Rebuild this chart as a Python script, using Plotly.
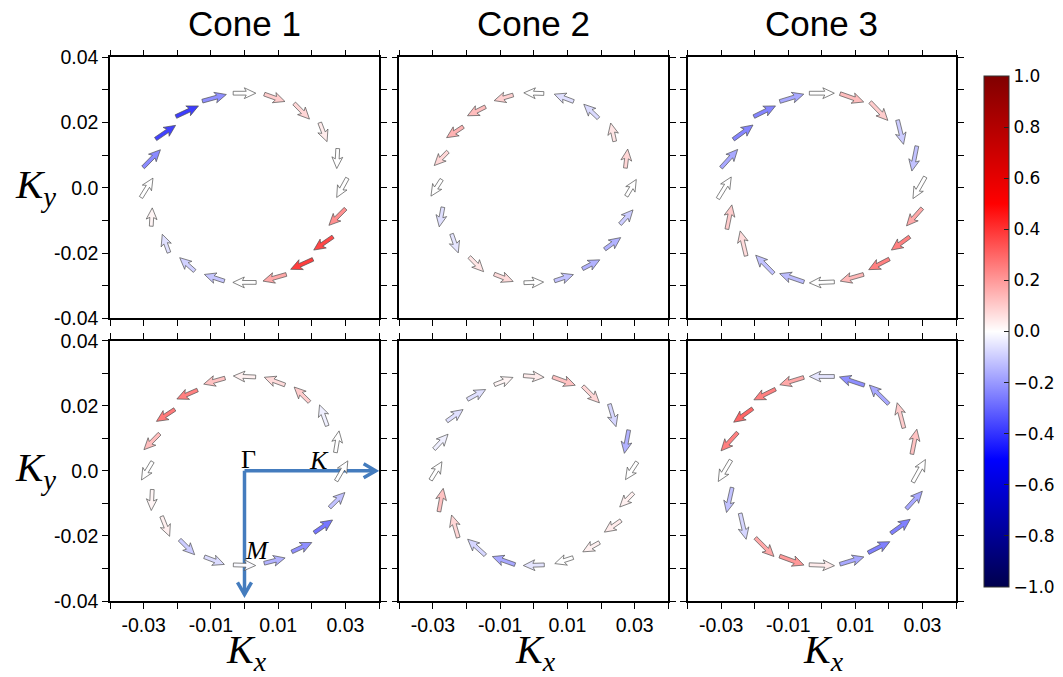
import math
import plotly.graph_objects as go

W, H = 1063, 677

# ---------------- data ----------------
column_titles = ["Cone 1", "Cone 2", "Cone 3"]
tick_vals = [-0.04, -0.03, -0.02, -0.01, 0.0, 0.01, 0.02, 0.03, 0.04]
x_tick_text = ["", "-0.03", "", "-0.01", "", "0.01", "", "0.03", ""]
y_tick_text = ["-0.04", "", "-0.02", "", "0.0", "", "0.02", "", "0.04"]
cbar_tick_vals = [-1.0, -0.8, -0.6, -0.4, -0.2, 0.0, 0.2, 0.4, 0.6, 0.8, 1.0]
cbar_tick_text = ["\u22121.0", "\u22120.8", "\u22120.6", "\u22120.4", "\u22120.2",
                  "0.0", "0.2", "0.4", "0.6", "0.8", "1.0"]

ring_radius = 0.029
# arrow sites: 20 points, clockwise from the top of the ring
site_angle_deg = [90 - 18 * i for i in range(20)]

# in-plane spin components (u, v) and out-of-plane colour value (c) per site
cone1_top_u = [0.68, 0.62, 0.46, 0.22, -0.03, -0.32, -0.50, -0.58, -0.67, -0.70,
               -0.70, -0.60, -0.45, -0.20, 0.03, 0.36, 0.52, 0.60, 0.68, 0.72]
cone1_top_v = [0.00, -0.22, -0.47, -0.57, -0.60, -0.58, -0.50, -0.40, -0.30, -0.20,
               0.00, 0.20, 0.40, 0.55, 0.55, 0.58, 0.53, 0.41, 0.32, 0.20]
cone1_top_c = [0.0, 0.10, 0.08, 0.04, 0.0, 0.0, 0.22, 0.36, 0.38, 0.17,
               0.0, -0.11, -0.09, -0.06, 0.02, 0.0, -0.23, -0.37, -0.38, -0.22]

cone2_top_u = [-0.60, -0.58, -0.44, -0.12, 0.07, 0.30, 0.39, 0.48, 0.52, 0.57,
               0.59, 0.57, 0.43, 0.20, -0.11, -0.32, -0.41, -0.50, -0.54, -0.57]
cone2_top_v = [0.02, 0.22, 0.42, 0.55, 0.57, 0.50, 0.43, 0.35, 0.27, 0.19,
               0.02, -0.22, -0.44, -0.57, -0.59, -0.50, -0.42, -0.33, -0.27, -0.17]
cone2_top_c = [0.0, -0.06, -0.07, 0.05, 0.08, 0.0, -0.10, -0.15, -0.15, -0.12,
               0.0, 0.07, 0.05, -0.05, -0.06, 0.0, 0.08, 0.15, 0.13, 0.09]

cone3_top_u = [0.75, 0.71, 0.53, 0.18, -0.15, -0.37, -0.47, -0.55, -0.62, -0.70,
               -0.75, -0.73, -0.54, -0.18, 0.15, 0.40, 0.50, 0.59, 0.65, 0.72]
cone3_top_v = [0.00, -0.25, -0.55, -0.73, -0.75, -0.65, -0.53, -0.40, -0.32, -0.20,
               -0.03, 0.25, 0.55, 0.75, 0.73, 0.65, 0.55, 0.43, 0.32, 0.22]
cone3_top_c = [0.0, 0.13, 0.10, -0.10, -0.12, 0.0, 0.17, 0.25, 0.25, 0.14,
               0.0, -0.13, -0.12, 0.07, 0.10, 0.0, -0.17, -0.24, -0.24, -0.17]

cone1_bot_u = [-0.67, -0.62, -0.46, -0.23, 0.11, 0.35, 0.46, 0.55, 0.60, 0.63,
               0.67, 0.60, 0.45, 0.24, -0.03, -0.33, -0.47, -0.55, -0.62, -0.64]
cone1_bot_v = [0.03, 0.23, 0.45, 0.63, 0.65, 0.60, 0.45, 0.38, 0.28, 0.16,
               -0.02, -0.23, -0.45, -0.60, -0.63, -0.55, -0.48, -0.36, -0.27, -0.18]
cone1_bot_c = [0.03, 0.07, 0.10, -0.03, 0.0, 0.0, -0.12, -0.27, -0.22, -0.15,
               -0.01, -0.07, -0.10, 0.03, 0.02, 0.0, 0.13, 0.26, 0.25, 0.12]

cone2_bot_u = [0.62, 0.68, 0.50, 0.20, -0.13, -0.35, -0.41, -0.50, -0.50, -0.55,
               -0.63, -0.68, -0.53, -0.20, 0.13, 0.34, 0.42, 0.49, 0.55, 0.56]
cone2_bot_v = [-0.05, -0.25, -0.50, -0.68, -0.70, -0.53, -0.42, -0.35, -0.28, -0.18,
               -0.02, 0.24, 0.48, 0.68, 0.70, 0.55, 0.45, 0.35, 0.30, 0.22]
cone2_bot_c = [0.04, 0.12, 0.08, -0.08, -0.15, 0.0, 0.03, 0.04, 0.03, 0.0,
               -0.05, -0.17, -0.08, 0.08, 0.12, 0.0, -0.03, -0.06, -0.06, 0.02]

cone3_bot_u = [-0.75, -0.75, -0.58, -0.20, 0.15, 0.38, 0.48, 0.58, 0.65, 0.72,
               0.76, 0.73, 0.56, 0.18, -0.17, -0.38, -0.50, -0.57, -0.65, -0.72]
cone3_bot_v = [0.00, 0.25, 0.57, 0.76, 0.75, 0.68, 0.53, 0.42, 0.33, 0.22,
               -0.03, -0.27, -0.56, -0.78, -0.75, -0.64, -0.55, -0.41, -0.32, -0.22]
cone3_bot_c = [-0.05, -0.22, -0.17, 0.10, 0.12, 0.0, -0.17, -0.25, -0.25, -0.17,
               0.04, 0.20, 0.17, -0.08, -0.12, 0.0, 0.25, 0.30, 0.25, 0.17]

# high-symmetry path drawn in the Cone 1 bottom panel
path_K_end = 0.039
path_M_end = -0.038
label_text = ["\u0393", "<i>K</i>", "<i>M</i>"]
label_x = [0.0013, 0.0222, 0.0037]
label_y = [0.0035, 0.0033, -0.0246]

# ---------------- styling / layout ----------------
seismic = [[0.0, "rgb(0,0,77)"], [0.25, "rgb(0,0,255)"], [0.5, "rgb(255,255,255)"],
           [0.75, "rgb(255,0,0)"], [1.0, "rgb(128,0,0)"]]
seismic_rgb = [(0.0, (0, 0, 77)), (0.25, (0, 0, 255)), (0.5, (255, 255, 255)),
               (0.75, (255, 0, 0)), (1.0, (128, 0, 0))]


def cmap(val, vmin=-1.0, vmax=1.0):
    t = min(1.0, max(0.0, (val - vmin) / (vmax - vmin)))
    for (t0, c0), (t1, c1) in zip(seismic_rgb[:-1], seismic_rgb[1:]):
        if t <= t1:
            f = (t - t0) / (t1 - t0) if t1 > t0 else 0
            r, g, b = [round(a + (bb - a) * f) for a, bb in zip(c0, c1)]
            return f"rgb({r},{g},{b})"
    return "rgb(128,0,0)"


col_px = [(110.0, 379.0), (399.3, 668.3), (687.7, 956.0)]
row_px = [(57.3, 318.3), (340.7, 601.0)]
RANGE = 0.08

panels = [
    (0, 0, cone1_top_u, cone1_top_v, cone1_top_c),
    (0, 1, cone2_top_u, cone2_top_v, cone2_top_c),
    (0, 2, cone3_top_u, cone3_top_v, cone3_top_c),
    (1, 0, cone1_bot_u, cone1_bot_v, cone1_bot_c),
    (1, 1, cone2_bot_u, cone2_bot_v, cone2_bot_c),
    (1, 2, cone3_bot_u, cone3_bot_v, cone3_bot_c),
]

# arrow glyph geometry (screen pixels)
PX_PER_UNIT = 33.3
SHAFT_HW = 1.9
HEAD_HW = 5.4
HEAD_LEN = 11.5
HEAD_AXIS = 9.6


def arrow_poly(cx, cy, u, v, kx, ky):
    ang = math.atan2(v, u)
    L = math.hypot(u, v) * PX_PER_UNIT
    base = [(0, -SHAFT_HW), (L - HEAD_AXIS, -SHAFT_HW), (L - HEAD_LEN, -HEAD_HW), (L, 0),
            (L - HEAD_LEN, HEAD_HW), (L - HEAD_AXIS, SHAFT_HW), (0, SHAFT_HW), (0, -SHAFT_HW)]
    ca, sa = math.cos(ang), math.sin(ang)
    xs, ys = [], []
    for px, py in base:
        px -= L / 2
        rx = px * ca - py * sa
        ry = px * sa + py * ca
        xs.append(cx + rx / kx)
        ys.append(cy + ry / ky)
    return xs, ys


fig = go.Figure()
layout_axes = {}
BLUE = "rgb(68,124,190)"

for p, (r, c, U, V, C) in enumerate(panels, start=1):
    sfx = "" if p == 1 else str(p)
    xr, yr = "x" + sfx, "y" + sfx
    x0, x1 = col_px[c]
    y0, y1 = row_px[r]
    kx = (x1 - x0) / RANGE
    ky = (y1 - y0) / RANGE
    axis_common = dict(range=[-0.04, 0.04], showgrid=False, zeroline=False, showline=True,
                       linecolor="black", linewidth=1.5, mirror="ticks", ticks="outside",
                       ticklen=6, tickwidth=1.3, tickcolor="black", tickvals=tick_vals,
                       tickfont=dict(family="Liberation Sans", size=19.5, color="black"),
                       fixedrange=True)
    layout_axes["xaxis" + sfx] = dict(axis_common, domain=[x0 / W, x1 / W], anchor=yr,
                                      ticktext=x_tick_text, showticklabels=(r == 1))
    layout_axes["yaxis" + sfx] = dict(axis_common, domain=[1 - y1 / H, 1 - y0 / H], anchor=xr,
                                      ticktext=y_tick_text, showticklabels=(c == 0))

    if p == 4:
        bx = [0, path_K_end, None, 0, 0]
        by = [0, 0, None, 0, path_M_end]
        # chevron heads
        hb, hs = 12.0, 7.0
        bx += [None, path_K_end - hb / kx, path_K_end, path_K_end - hb / kx,
               None, -hs / kx, 0, hs / kx]
        by += [None, hs / ky, 0, -hs / ky,
               None, path_M_end + hb / ky, path_M_end, path_M_end + hb / ky]
        fig.add_trace(go.Scatter(x=bx, y=by, mode="lines", xaxis=xr, yaxis=yr,
                                 line=dict(color=BLUE, width=3.5), hoverinfo="skip",
                                 showlegend=False))

    for i in range(len(U)):
        a = math.radians(site_angle_deg[i])
        cx, cy = ring_radius * math.cos(a), ring_radius * math.sin(a)
        xs, ys = arrow_poly(cx, cy, U[i], V[i], kx, ky)
        fig.add_trace(go.Scatter(x=xs, y=ys, mode="lines", fill="toself",
                                 fillcolor=cmap(C[i]), xaxis=xr, yaxis=yr,
                                 line=dict(color="rgb(80,80,80)", width=0.7),
                                 hoverinfo="skip", showlegend=False))

# colour bar carrier
fig.add_trace(go.Scatter(x=[0, 0], y=[0, 0], mode="markers", xaxis="x", yaxis="y",
                         marker=dict(size=1, opacity=0, color=[-1, 1], cmin=-1, cmax=1,
                                     colorscale=seismic, showscale=True,
                                     colorbar=dict(thickness=25, thicknessmode="pixels",
                                                   len=511, lenmode="pixels",
                                                   x=984 / W, xanchor="left",
                                                   y=1 - 331.5 / H, yanchor="middle",
                                                   xpad=0, ypad=0, outlinewidth=1,
                                                   outlinecolor="#333",
                                                   ticks="inside", ticklen=5, tickwidth=1,
                                                   tickcolor="#222",
                                                   tickvals=cbar_tick_vals,
                                                   ticktext=cbar_tick_text,
                                                   tickfont=dict(family="DejaVu Sans", size=17,
                                                                 color="black"))),
                         hoverinfo="skip", showlegend=False))

annotations = []
for c, title in enumerate(column_titles):
    x0, x1 = col_px[c]
    annotations.append(dict(text=title, x=(x0 + x1) / 2 / W, y=1 - 23 / H, xref="paper",
                            yref="paper", showarrow=False, xanchor="center", yanchor="middle",
                            font=dict(family="Liberation Sans", size=35, color="black")))
    annotations.append(dict(text="<i>K</i><sub><i>x</i></sub>", x=((x0 + x1) / 2 + 2) / W,
                            y=1 - 652 / H, xref="paper", yref="paper", showarrow=False,
                            xanchor="center", yanchor="middle",
                            font=dict(family="Liberation Serif", size=40, color="black")))
for r in range(2):
    y0, y1 = row_px[r]
    annotations.append(dict(text="<i>K</i><sub><i>y</i></sub>", x=35 / W,
                            y=1 - ((y0 + y1) / 2 - 1) / H, xref="paper", yref="paper",
                            showarrow=False, xanchor="center", yanchor="middle",
                            font=dict(family="Liberation Serif", size=41, color="black")))
for t, lx, ly in zip(label_text, label_x, label_y):
    annotations.append(dict(text=t, x=lx, y=ly, xref="x4", yref="y4", showarrow=False,
                            xanchor="center", yanchor="middle",
                            font=dict(family="Liberation Serif", size=26, color="black")))

fig.update_layout(width=W, height=H, margin=dict(l=0, r=0, t=0, b=0, autoexpand=False),
                  paper_bgcolor="white", plot_bgcolor="white", showlegend=False,
                  annotations=annotations, **layout_axes)

fig.write_html("out.html")
